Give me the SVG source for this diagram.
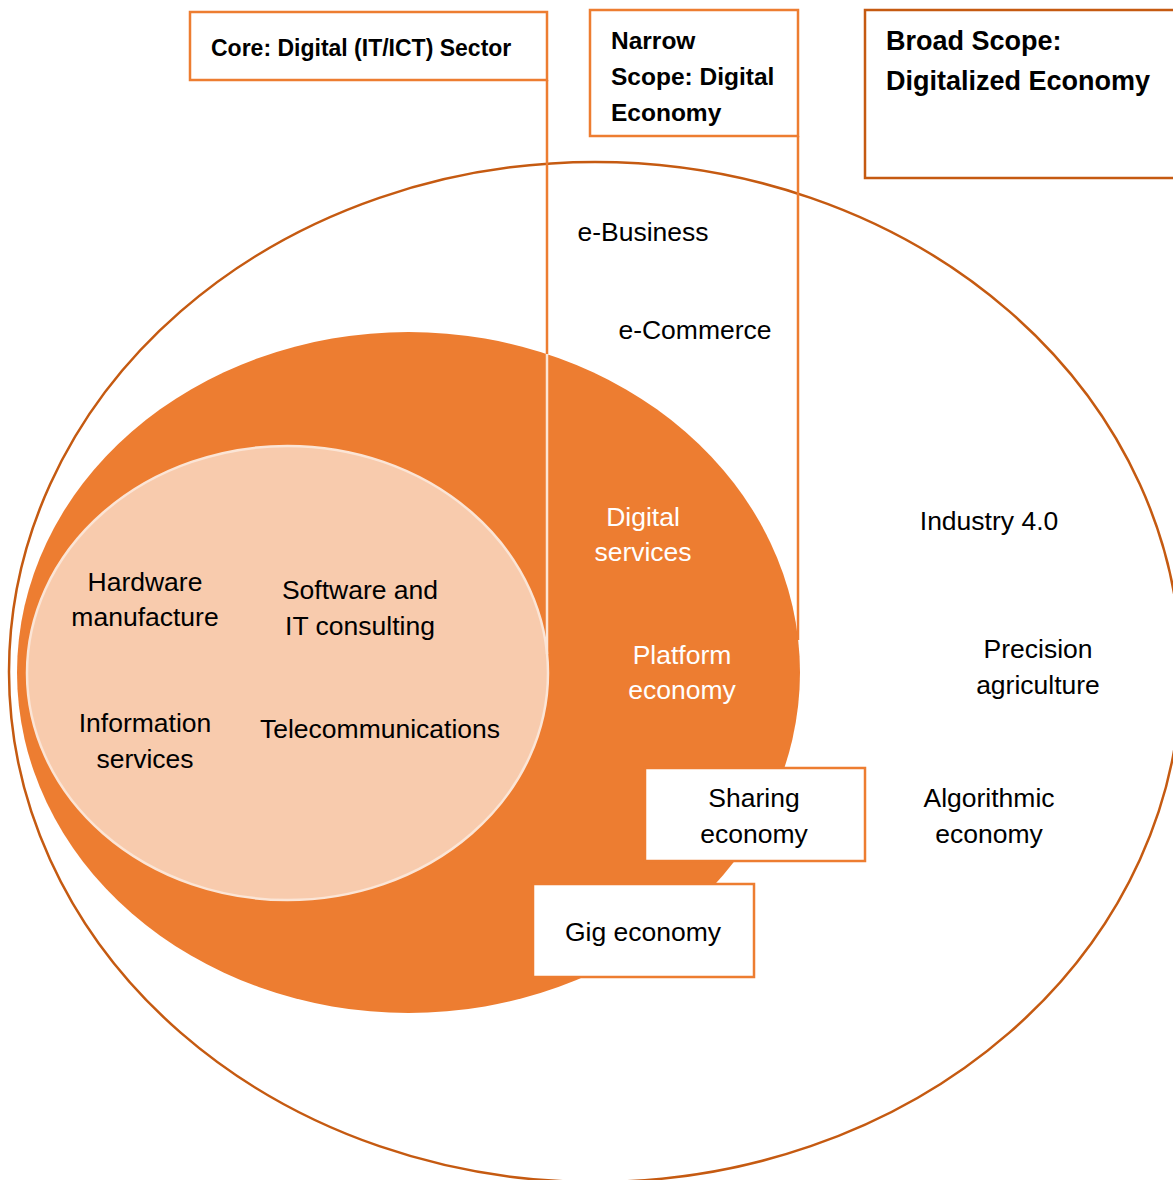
<svg xmlns="http://www.w3.org/2000/svg" width="1173" height="1180" viewBox="0 0 1173 1180">
<style>
  text { font-family: "Liberation Sans", Arial, sans-serif; }
  .lbl { font-size: 26.5px; fill: #000; text-anchor: middle; }
  .wlbl { font-size: 26.5px; fill: #fff; text-anchor: middle; }
  .ttl { font-weight: bold; fill: #000; }
  .box { fill: #fff; stroke: #ED7D31; stroke-width: 2.5; }
</style>
<rect x="0" y="0" width="1173" height="1180" fill="#fff"/>
<g id="broad-scope">
  <ellipse cx="595" cy="672" rx="586" ry="510" fill="#fff" stroke="#C55A11" stroke-width="2.5"/>
</g>
<g id="narrow-scope">
  <ellipse cx="408.5" cy="672.5" rx="391.5" ry="340.5" fill="#ED7D31"/>
</g>
<g id="core">
  <ellipse cx="287.5" cy="673" rx="260.5" ry="227" fill="#F8CBAD" stroke="#FBE5D6" stroke-width="2.5"/>
</g>
<g id="connectors">
  <line x1="547" y1="80" x2="547" y2="354" stroke="#ED7D31" stroke-width="2.5"/>
  <line x1="547" y1="354" x2="547" y2="654" stroke="#FBE5D6" stroke-width="2.5"/>
  <line x1="798" y1="136" x2="798" y2="640" stroke="#ED7D31" stroke-width="2.5"/>
</g>
<g id="core-label">
  <rect class="box" x="190" y="12" width="357" height="68"/>
  <text class="ttl" x="211" y="56" font-size="23">Core: Digital (IT/ICT) Sector</text>
</g>
<g id="narrow-label">
  <rect class="box" x="590" y="10" width="208" height="126"/>
  <text class="ttl" x="611" y="49" font-size="24.5">Narrow</text>
  <text class="ttl" x="611" y="85" font-size="24.5">Scope: Digital</text>
  <text class="ttl" x="611" y="121" font-size="24.5">Economy</text>
</g>
<g id="broad-label">
  <rect x="865" y="10" width="330" height="168" fill="#fff" stroke="#C55A11" stroke-width="2.5"/>
  <text class="ttl" x="886" y="50" font-size="27">Broad Scope:</text>
  <text class="ttl" x="886" y="90" font-size="27">Digitalized Economy</text>
</g>
<g id="e-business"><text class="lbl" x="643" y="241">e-Business</text></g>
<g id="e-commerce"><text class="lbl" x="695" y="339">e-Commerce</text></g>
<g id="digital-services">
  <text class="wlbl" x="643" y="526">Digital</text>
  <text class="wlbl" x="643" y="561">services</text>
</g>
<g id="platform-economy">
  <text class="wlbl" x="682" y="664">Platform</text>
  <text class="wlbl" x="682" y="699">economy</text>
</g>
<g id="industry-4">
  <text class="lbl" x="989" y="530">Industry 4.0</text>
</g>
<g id="precision-agriculture">
  <text class="lbl" x="1038" y="658">Precision</text>
  <text class="lbl" x="1038" y="694">agriculture</text>
</g>
<g id="algorithmic-economy">
  <text class="lbl" x="989" y="807">Algorithmic</text>
  <text class="lbl" x="989" y="843">economy</text>
</g>
<g id="hardware">
  <text class="lbl" x="145" y="591">Hardware</text>
  <text class="lbl" x="145" y="626">manufacture</text>
</g>
<g id="software">
  <text class="lbl" x="360" y="599">Software and</text>
  <text class="lbl" x="360" y="635">IT consulting</text>
</g>
<g id="information">
  <text class="lbl" x="145" y="732">Information</text>
  <text class="lbl" x="145" y="768">services</text>
</g>
<g id="telecom">
  <text class="lbl" x="380" y="738">Telecommunications</text>
</g>
<g id="sharing-economy">
  <rect class="box" x="645" y="768" width="220" height="93"/>
  <text class="lbl" x="754" y="807">Sharing</text>
  <text class="lbl" x="754" y="843">economy</text>
</g>
<g id="gig-economy">
  <rect class="box" x="533" y="884" width="221" height="93"/>
  <text class="lbl" x="643" y="941">Gig economy</text>
</g>
</svg>
